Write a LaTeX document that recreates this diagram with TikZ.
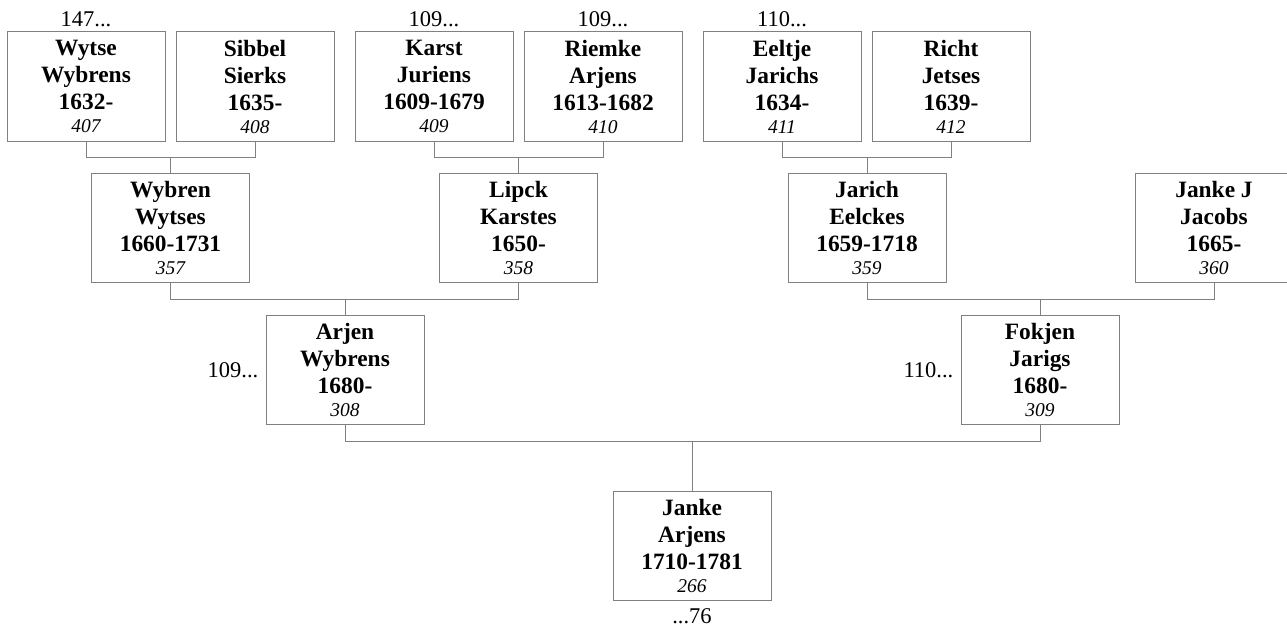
\documentclass[tikz,border=0pt]{standalone}
\usepackage{fontspec}
\setmainfont{Liberation Serif}
\usetikzlibrary{positioning}

\definecolor{gris}{RGB}{128,128,128}
\tikzset{
  pers/.style={draw=gris, line width=1pt, minimum width=158pt, minimum height=109.5pt,
    inner sep=0pt, align=center, font=\fontsize{23.4}{27}\selectfont\bfseries},
  renvoi/.style={inner sep=0pt, font=\fontsize{22.5}{26}\selectfont},
  lien/.style={draw=gris, line width=1pt},
}
\newcommand{\fiche}[4]{#1\\#2\\#3\\[-4.3pt]{\fontsize{19.5}{22.7}\selectfont\mdseries\itshape #4}}

\begin{document}
\begin{tikzpicture}[x=1pt, y=-1pt]
    \useasboundingbox (0,0) rectangle (1287,626);

    % --- Arriere-grands-parents (Haut) ---
    \node[pers] (wytse)  at (86,86.75)  {\fiche{Wytse}{Wybrens}{1632-}{407}};
    \node[pers] (sibbel) at (255,86.75) {\fiche{Sibbel}{Sierks}{1635-}{408}};
    \node[pers] (karst)  at (434,86.75) {\fiche{Karst}{Juriens}{1609-1679}{409}};
    \node[pers] (riemke) at (603,86.75) {\fiche{Riemke}{Arjens}{1613-1682}{410}};
    \node[pers] (eeltje) at (782,86.75) {\fiche{Eeltje}{Jarichs}{1634-}{411}};
    \node[pers] (richt)  at (951,86.75) {\fiche{Richt}{Jetses}{1639-}{412}};

    \node[renvoi, above=4pt of wytse]  (wytse-r)  {147...};
    \node[renvoi, above=4pt of karst]  (karst-r)  {109...};
    \node[renvoi, above=4pt of riemke] (riemke-r) {109...};
    \node[renvoi, above=4pt of eeltje] (eeltje-r) {110...};

    % --- Grands-parents ---
    \node[pers] (wybren) at (170.5,227.75) {\fiche{Wybren}{Wytses}{1660-1731}{357}};
    \node[pers] (lipck)  at (518.5,227.75) {\fiche{Lipck}{Karstes}{1650-}{358}};
    \node[pers] (jarich) at (867,227.75)   {\fiche{Jarich}{Eelckes}{1659-1718}{359}};
    \node[pers] (jankej) at (1214,227.75)  {\fiche{Janke J}{Jacobs}{1665-}{360}};

    \draw[lien] (wytse.south) -- ++(0,15) coordinate (f1) -| (sibbel.south);
    \draw[lien] (wybren.north) -- (wybren.north |- f1);
    \draw[lien] (karst.south) -- ++(0,15) coordinate (f2) -| (riemke.south);
    \draw[lien] (lipck.north) -- (lipck.north |- f2);
    \draw[lien] (eeltje.south) -- ++(0,15) coordinate (f3) -| (richt.south);
    \draw[lien] (jarich.north) -- (jarich.north |- f3);

    % --- Parents ---
    \node[pers] (arjen)  at (345,369.75)  {\fiche{Arjen}{Wybrens}{1680-}{308}};
    \node[pers] (fokjen) at (1040,369.75) {\fiche{Fokjen}{Jarigs}{1680-}{309}};

    \node[renvoi, left=7pt of arjen]  (arjen-r)  {109...};
    \node[renvoi, left=7pt of fokjen] (fokjen-r) {110...};

    \draw[lien] (wybren.south) -- ++(0,16) coordinate (f4) -| (lipck.south);
    \draw[lien] (arjen.north) -- (arjen.north |- f4);
    \draw[lien] (jarich.south) -- ++(0,16) coordinate (f5) -| (jankej.south);
    \draw[lien] (fokjen.north) -- (fokjen.north |- f5);

    % --- Enfant (Bas) ---
    \node[pers] (janke) at (692,545.75) {\fiche{Janke}{Arjens}{1710-1781}{266}};
    \node[renvoi, below=7pt of janke] (janke-r) {...76};

    \draw[lien] (arjen.south) -- ++(0,16) coordinate (f6) -| (fokjen.south);
    \draw[lien] (janke.north) -- (janke.north |- f6);

\end{tikzpicture}
\end{document}
